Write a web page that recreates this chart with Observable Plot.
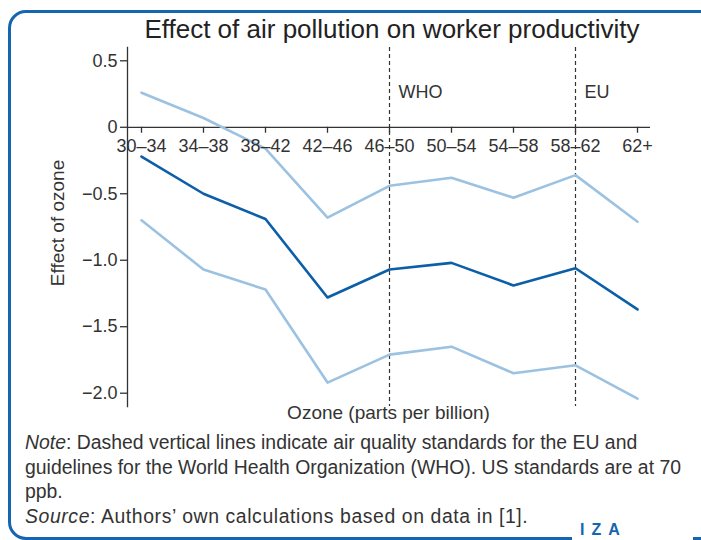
<!DOCTYPE html>
<html>
<head>
<meta charset="utf-8">
<script src="https://cdn.jsdelivr.net/npm/d3@7"></script>
<script src="https://cdn.jsdelivr.net/npm/@observablehq/plot@0.6"></script>
<style>
  html, body { margin: 0; padding: 0; background: #fff; }
  body { width: 701px; height: 540px; position: relative; overflow: hidden;
         font-family: "Liberation Sans", Arial, sans-serif; color: #333; }
  #frame { position: absolute; left: 8px; top: 10px; width: 740px; height: 524px;
           border: 3px solid #1565b0; border-radius: 18px; box-sizing: content-box; }
  #iza { position: absolute; left: 572px; top: 521px; width: 121px; height: 20px; background: #fff;
         color: #1565b0; font-size: 16px; font-weight: bold; letter-spacing: 7px; padding-left: 8px; box-sizing: border-box; }
  #title { position: absolute; left: 0; width: 784px; top: 14px; text-align: center;
           font-size: 26px; line-height: 30px; color: #222; }
  #chart { position: absolute; left: 0; top: 40px; }
  #xlabel { position: absolute; left: 0; width: 777px; top: 402px; text-align: center; font-size: 19px; line-height: 22px; }
  #ylabel { position: absolute; left: 58px; top: 223px; width: 0; height: 0; }
  #ylabel span { position: absolute; transform: translate(-50%, -50%) rotate(-90deg); white-space: nowrap; font-size: 19px; }
  #note { position: absolute; left: 25px; top: 430px; width: 680px; font-size: 19.4px; line-height: 24.5px; white-space: nowrap; }
  #note .src { letter-spacing: 0.6px; }
</style>
</head>
<body>
<div id="frame"></div>
<div id="iza">IZA</div>
<div id="title">Effect of air pollution on worker productivity</div>
<div id="chart"></div>
<div id="ylabel"><span>Effect of ozone</span></div>
<div id="xlabel">Ozone (parts per billion)</div>
<div id="note"><i>Note</i>: Dashed vertical lines indicate air quality standards for the EU and<br>guidelines for the World Health Organization (WHO). US standards are at 70<br>ppb.<br><span class="src"><i>Source</i>: Authors’ own calculations based on data in [1].</span></div>
<script>
const categories = ["30–34", "34–38", "38–42", "42–46", "46–50", "50–54", "54–58", "58–62", "62+"];
const estimate = [-0.22, -0.50, -0.69, -1.28, -1.07, -1.02, -1.19, -1.06, -1.37];
const upper    = [0.26, 0.07, -0.16, -0.68, -0.44, -0.38, -0.53, -0.36, -0.71];
const lower    = [-0.70, -1.07, -1.22, -1.92, -1.71, -1.65, -1.85, -1.79, -2.04];
const yTicks = [0.5, 0, -0.5, -1, -1.5, -2];
const yTickLabels = ["0.5", "0", "−0.5", "−1.0", "−1.5", "−2.0"];
const standards = [{cat: "46–50", label: "WHO"}, {cat: "58–62", label: "EU"}];

const rows = s => categories.map((c, i) => ({cat: c, v: s[i]}));
const dark = "#0b5ea8", light = "#9cc2e2";

const chart = Plot.plot({
  width: 701,
  height: 370,
  marginTop: 7,
  marginBottom: 4,
  marginLeft: 127,
  marginRight: 51,
  style: {fontFamily: "'Liberation Sans', Arial, sans-serif", fontSize: "18px", color: "#333", background: "transparent", overflow: "visible"},
  x: {type: "point", domain: categories, padding: 0.16, axis: null},
  y: {domain: [-2.1, 0.6], range: [366, 7], axis: null},
  marks: [
    Plot.ruleX(standards, {x: "cat", stroke: "#333", strokeWidth: 1.2, strokeDasharray: "4,3"}),
    Plot.frame({anchor: "left", stroke: "#333", strokeWidth: 1.3}),
    Plot.axisY({ticks: yTicks, tickFormat: d => yTickLabels[yTicks.indexOf(d)], tickSize: 7, tickPadding: 3, label: null, stroke: "#333", strokeWidth: 1.3, fontSize: 18, fill: "#333"}),
    Plot.ruleY([0], {stroke: "#333", strokeWidth: 1.3}),
    Plot.ruleX(categories, {x: d => d, y1: () => 0, y2: () => 0, insetBottom: -6, stroke: "#333", strokeWidth: 1.3}),
    Plot.text(standards, {x: "cat", text: "label", frameAnchor: "top", dy: 38, dx: 9, textAnchor: "start", fontSize: 18, fill: "#333"}),
    Plot.line(rows(upper), {x: "cat", y: "v", stroke: light, strokeWidth: 2.6}),
    Plot.line(rows(lower), {x: "cat", y: "v", stroke: light, strokeWidth: 2.6}),
    Plot.line(rows(estimate), {x: "cat", y: "v", stroke: dark, strokeWidth: 2.6}),
    Plot.text(categories, {x: d => d, y: () => 0, text: d => d, dy: 19, fontSize: 18, fill: "#333"})
  ]
});
document.getElementById("chart").appendChild(chart);
</script>
</body>
</html>
